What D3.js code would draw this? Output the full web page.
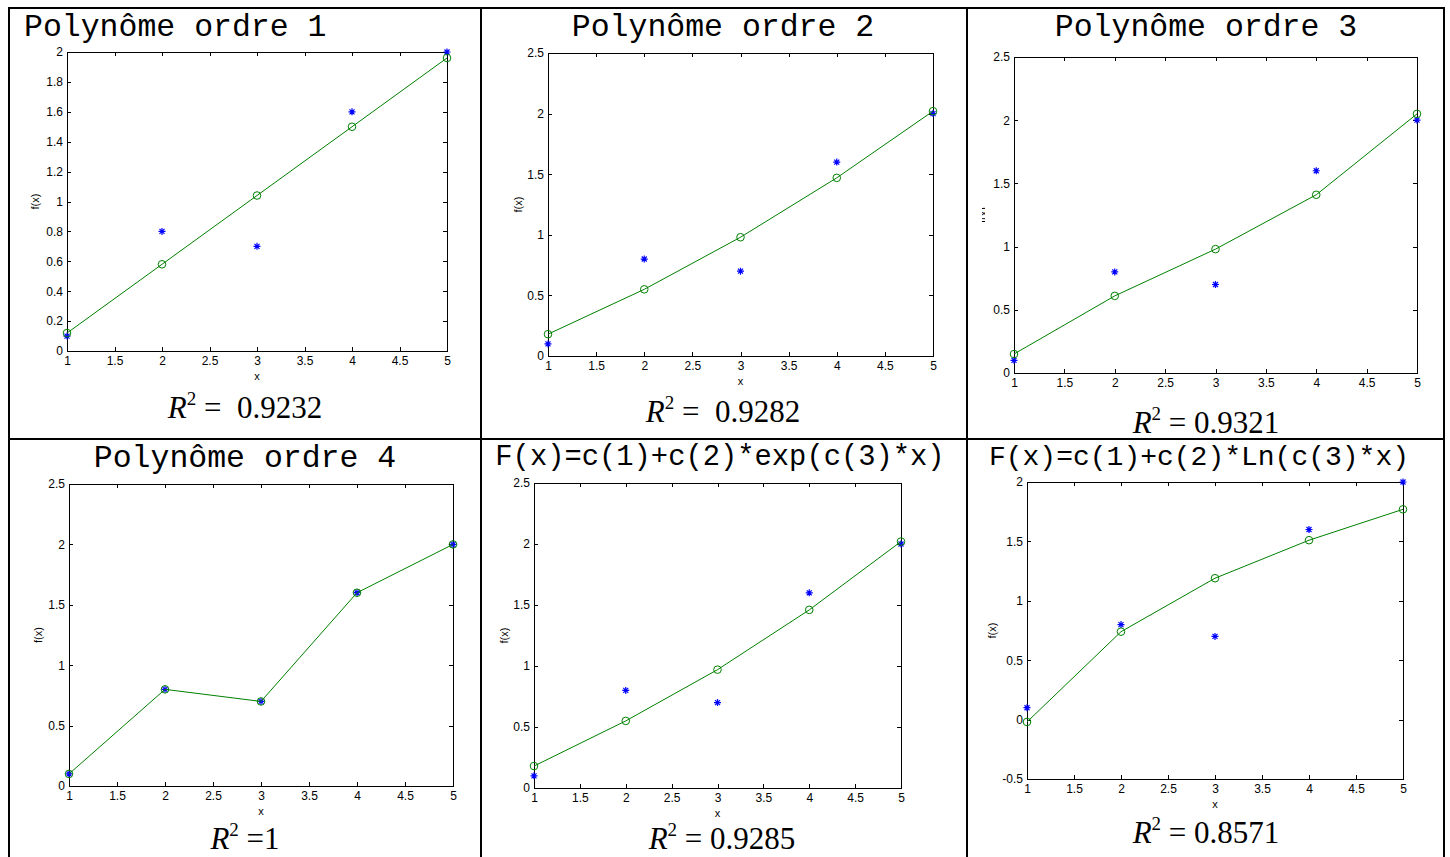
<!DOCTYPE html>
<html lang="fr">
<head>
  <meta charset="UTF-8">
  <title>Ajustements</title>
  <style>
    body { margin: 0; background: #fff; }
    svg { display: block; }
    .tick text { font-family: "Liberation Sans", Arial, sans-serif; font-size: 12px; fill: #000; }
    .tick line, .domain { stroke: #000; shape-rendering: crispEdges; }
  </style>
</head>
<body>
  <svg id="chart" width="1450" height="857"></svg>
  <script src="https://d3js.org/d3.v7.min.js"></script>
  <script>
    // mesures
    var xData = [1, 2, 3, 4, 5];
    var yData = [0.1, 0.8, 0.7, 1.6, 2.0];

    var fitPoly1 = [0.12, 0.58, 1.04, 1.50, 1.96];
    var fitPoly2 = [0.18, 0.55, 0.98, 1.47, 2.02];
    var fitPoly3 = [0.15, 0.61, 0.98, 1.41, 2.05];
    var fitPoly4 = [0.1, 0.8, 0.7, 1.6, 2.0];
    var fitExp = [0.18, 0.55, 0.97, 1.46, 2.02];
    var fitLn = [-0.02, 0.74, 1.19, 1.51, 1.77];

    var titles = ["Polynôme ordre 1", "Polynôme ordre 2", "Polynôme ordre 3",
                  "Polynôme ordre 4", "F(x)=c(1)+c(2)*exp(c(3)*x)", "F(x)=c(1)+c(2)*Ln(c(3)*x)"];
    var r2Texts = [" =\u00a0\u00a00.9232", " =\u00a0\u00a00.9282", " = 0.9321", " =1", " = 0.9285", " = 0.8571"];

    var xTicks = [1, 1.5, 2, 2.5, 3, 3.5, 4, 4.5, 5];
    var yTicks1 = [0, 0.2, 0.4, 0.6, 0.8, 1, 1.2, 1.4, 1.6, 1.8, 2];
    var yTicks25 = [0, 0.5, 1, 1.5, 2, 2.5];
    var yTicksLn = [-0.5, 0, 0.5, 1, 1.5, 2];

    var green = "#008000", blue = "#0000ff";
    var svg = d3.select("#chart");

    // box = [gauche, haut, droite, bas] de la zone de trace, cell = case du tableau
    var panels = [
      { fit: fitPoly1, yDomain: [0, 2], yTicks: yTicks1, box: [67, 52, 447, 351], cell: [9, 8, 481, 439],
        title: [24, 36, "start", 31.5], r2: [245, 418], yLabX: 35, xLab: true },
      { fit: fitPoly2, yDomain: [0, 2.5], yTicks: yTicks25, box: [548, 53, 933, 356], cell: [481, 8, 967, 439],
        title: [723, 36, "middle", 31.5], r2: [723, 422], yLabX: 518, xLab: true },
      { fit: fitPoly3, yDomain: [0, 2.5], yTicks: yTicks25, box: [1014, 57, 1417, 373], cell: [967, 8, 1444, 439],
        title: [1206, 36, "middle", 31.5], r2: [1206, 433], yLabX: 983, xLab: false, yLabCut: true },
      { fit: fitPoly4, yDomain: [0, 2.5], yTicks: yTicks25, box: [69, 484, 453, 786], cell: [9, 439, 481, 857],
        title: [245, 467, "middle", 31.5], r2: [245, 849], yLabX: 38, xLab: true },
      { fit: fitExp, yDomain: [0, 2.5], yTicks: yTicks25, box: [534, 483, 901, 788], cell: [481, 439, 967, 857],
        title: [720, 465, "middle", 28.8], r2: [722, 849], yLabX: 504, xLab: true },
      { fit: fitLn, yDomain: [-0.5, 2], yTicks: yTicksLn, box: [1027, 482, 1403, 779], cell: [967, 439, 1444, 857],
        title: [1199, 465, "middle", 28], r2: [1206, 843], yLabX: 992, xLab: true }
    ];

    var defs = svg.append("defs");
    var starPath = "M-3.5,0H3.5M0,-3.5V3.5M-2.5,-2.5L2.5,2.5M-2.5,2.5L2.5,-2.5";

    panels.forEach(function(p, i) {
      defs.append("clipPath").attr("id", "cell" + i)
        .append("rect")
        .attr("x", p.cell[0]).attr("y", p.cell[1])
        .attr("width", p.cell[2] - p.cell[0]).attr("height", p.cell[3] - p.cell[1]);

      var g = svg.append("g").attr("clip-path", "url(#cell" + i + ")");

      var x = d3.scaleLinear().domain([1, 5]).range([p.box[0], p.box[2]]);
      var y = d3.scaleLinear().domain(p.yDomain).range([p.box[3], p.box[1]]);

      // titre
      g.append("text")
        .attr("x", p.title[0]).attr("y", p.title[1])
        .attr("text-anchor", p.title[2])
        .style("font-family", '"Courier New", "Liberation Mono", monospace')
        .style("font-size", p.title[3] + "px")
        .text(titles[i]);

      // axes facon matlab : graduations vers l'interieur sur les 4 cotes
      g.append("g").attr("transform", "translate(0," + p.box[3] + ")")
        .call(d3.axisBottom(x).tickValues(xTicks).tickFormat(d => String(d))
          .tickSizeInner(-4).tickSizeOuter(0).tickPadding(5));
      g.append("g").attr("transform", "translate(0," + p.box[1] + ")")
        .call(d3.axisTop(x).tickValues(xTicks).tickFormat("")
          .tickSizeInner(-4).tickSizeOuter(0));
      g.append("g").attr("transform", "translate(" + p.box[0] + ",0)")
        .call(d3.axisLeft(y).tickValues(p.yTicks).tickFormat(d => String(d))
          .tickSizeInner(-4).tickSizeOuter(0).tickPadding(4));
      g.append("g").attr("transform", "translate(" + p.box[2] + ",0)")
        .call(d3.axisRight(y).tickValues(p.yTicks).tickFormat("")
          .tickSizeInner(-4).tickSizeOuter(0));

      g.append("rect")
        .attr("x", p.box[0]).attr("y", p.box[1])
        .attr("width", p.box[2] - p.box[0]).attr("height", p.box[3] - p.box[1])
        .attr("fill", "none").attr("stroke", "#000")
        .attr("shape-rendering", "crispEdges");

      // libelles d'axes
      if (p.xLab) {
        g.append("text")
          .attr("x", (p.box[0] + p.box[2]) / 2).attr("y", p.box[3] + 29)
          .attr("text-anchor", "middle")
          .style("font-family", '"Liberation Sans", Arial, sans-serif')
          .style("font-size", "11px")
          .text("x");
      }
      var yl = g.append("g");
      if (p.yLabCut) {
        defs.append("clipPath").attr("id", "ycut" + i)
          .append("rect").attr("x", p.yLabX - 1).attr("y", p.box[1]).attr("width", 3).attr("height", p.box[3] - p.box[1]);
        yl.attr("clip-path", "url(#ycut" + i + ")");
      }
      yl.append("text")
        .attr("transform", "translate(" + p.yLabX + "," + (p.box[1] + p.box[3]) / 2 + ") rotate(-90)")
        .attr("text-anchor", "middle")
        .attr("dy", "0.35em")
        .style("font-family", '"Liberation Sans", Arial, sans-serif')
        .style("font-size", "11px")
        .text("f(x)");

      // donnees (etoiles bleues)
      g.selectAll("path.star").data(xData.map((d, k) => [d, yData[k]]))
        .enter().append("path")
        .attr("class", "star")
        .attr("d", starPath)
        .attr("transform", d => "translate(" + x(d[0]) + "," + y(d[1]) + ")")
        .attr("stroke", blue).attr("stroke-width", 1.2).attr("fill", "none");

      // courbe ajustee
      var fitPts = xData.map((d, k) => [d, p.fit[k]]);
      g.append("path")
        .attr("d", d3.line().x(d => x(d[0])).y(d => y(d[1]))(fitPts))
        .attr("stroke", green).attr("stroke-width", 1).attr("fill", "none");
      g.selectAll("circle.fit").data(fitPts)
        .enter().append("circle")
        .attr("class", "fit")
        .attr("cx", d => x(d[0])).attr("cy", d => y(d[1]))
        .attr("r", 3.8)
        .attr("stroke", green).attr("stroke-width", 1).attr("fill", "none");

      // R^2
      var t = g.append("text")
        .attr("x", p.r2[0]).attr("y", p.r2[1])
        .attr("text-anchor", "middle")
        .style("font-family", '"Liberation Serif", "Times New Roman", serif')
        .style("font-size", "31px");
      t.append("tspan").style("font-style", "italic").text("R");
      t.append("tspan").attr("dy", -13).style("font-size", "19px").text("2");
      t.append("tspan").attr("dy", 13).text(r2Texts[i]);
    });

    // bordures du tableau
    var grid = svg.append("g").attr("stroke", "#000").attr("stroke-width", 2).attr("fill", "none");
    grid.append("rect").attr("x", 9).attr("y", 8).attr("width", 1435).attr("height", 860);
    [481, 967].forEach(function(v) {
      grid.append("line").attr("x1", v).attr("x2", v).attr("y1", 8).attr("y2", 857);
    });
    grid.append("line").attr("x1", 9).attr("x2", 1444).attr("y1", 439).attr("y2", 439);
  </script>
</body>
</html>
